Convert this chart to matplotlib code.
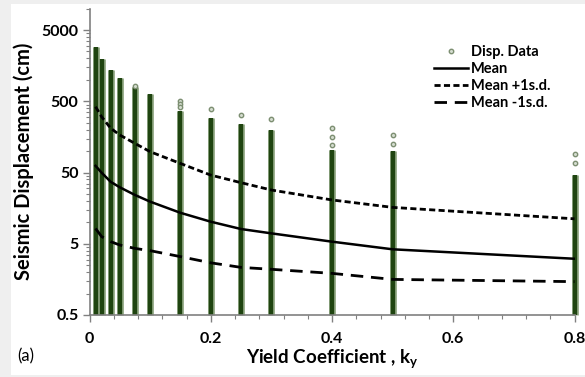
import numpy as np
import matplotlib
matplotlib.use("Agg")
import matplotlib.pyplot as plt
from matplotlib.lines import Line2D
from matplotlib.patches import Rectangle
from matplotlib.ticker import FixedLocator, NullFormatter

plt.rcParams['font.family'] = ['Lato', 'DejaVu Sans']
plt.rcParams['mathtext.fontset'] = 'custom'
plt.rcParams['mathtext.bf'] = 'Lato:bold'
plt.rcParams['mathtext.rm'] = 'Lato:bold'

# yield coefficients where the displacements were computed
ky = [0.01, 0.02, 0.035, 0.05, 0.075, 0.1, 0.15, 0.2, 0.25, 0.3, 0.4, 0.5, 0.8]
# top of the dense cloud of displacement values at each ky (cm)
col_top = [2860, 1980, 1360, 1060, 800, 640, 360, 294, 240, 197, 103, 101, 46]
# isolated large displacements above each cloud
outliers = {
    0.075: [826],
    0.15: [505, 460, 420],
    0.2: [385],
    0.25: [324],
    0.3: [279],
    0.4: [213, 156, 122],
    0.5: [168, 126],
    0.8: [91, 67],
}

mean = [62, 49.7, 37, 31, 24.2, 19.5, 13.6, 10.2, 8.05, 7.0, 5.35, 4.18, 3.08]
plus_sd = [420, 303, 209, 168, 128, 98, 67, 46, 36, 28.4, 20.6, 16.2, 11.2]
minus_sd = [8.2, 6.3, 5.35, 4.8, 4.3, 4.0, 3.3, 2.7, 2.33, 2.19, 1.92, 1.58, 1.47]

fig = plt.figure(figsize=(5.85, 3.77), dpi=100, facecolor='#efefef')
fig.patches.append(Rectangle((11 / 585, 2 / 377), 574 / 585, 371 / 377,
                             transform=fig.transFigure, facecolor='white',
                             edgecolor='none', zorder=-1))
ax = fig.add_axes([89.5 / 585, 62 / 377, 485 / 585, 306.4 / 377])
ax.set_zorder(1)
ax.set_facecolor('none')

ymin = 0.5
# data clouds drawn as dense columns with a pale rim
ax.vlines(ky, ymin, col_top, colors='#9bb08e', linewidth=5.0, zorder=2,
          clip_on=False)
ax.vlines(ky, ymin, col_top, colors='#1f4410', linewidth=3.2, zorder=3,
          clip_on=False)
for k, vals in outliers.items():
    ax.scatter([k] * len(vals), vals, s=10, facecolor='#d5ddd0',
               edgecolor='#7d8f72', linewidth=1.0, zorder=4, clip_on=False)

ax.plot(ky, mean, color='black', linewidth=1.8, zorder=5)
ax.plot(ky, plus_sd, color='black', linewidth=2.0, dashes=(2.2, 1.2), zorder=5)
ax.plot(ky, minus_sd, color='black', linewidth=2.0, dashes=(4.5, 2.8), zorder=5)

ax.set_yscale('log')
ax.set_ylim(0.5, 10000)
ax.set_xlim(0, 0.8)

major_y = [0.5, 5, 50, 500, 5000]
minor_y = [m * b for b in [0.5, 5, 50, 500, 5000] for m in range(2, 10)]
ax.yaxis.set_major_locator(FixedLocator(major_y))
ax.yaxis.set_minor_locator(FixedLocator(minor_y))
ax.yaxis.set_minor_formatter(NullFormatter())
ax.set_yticklabels(['0.5', '5', '50', '500', '5000'])
ax.set_xticks([0, 0.2, 0.4, 0.6, 0.8])
ax.set_xticklabels(['0', '0.2', '0.4', '0.6', '0.8'])
ax.set_xticks(np.arange(0, 0.81, 0.04), minor=True)

for s in ['top', 'right']:
    ax.spines[s].set_visible(False)
for s in ['left', 'bottom']:
    ax.spines[s].set_color('#808080')
    ax.spines[s].set_linewidth(1.2)
    ax.spines[s].set_zorder(6)
ax.tick_params(which='major', length=5, width=1.0, color='#808080',
               labelsize=11.5, pad=3)
ax.tick_params(which='minor', length=3, width=0.8, color='#808080')
for lab in ax.get_xticklabels() + ax.get_yticklabels():
    lab.set_fontweight('bold')
ax.tick_params(axis='x', pad=7)

ax.set_ylabel('Seismic Displacement (cm)', fontsize=14.5, fontweight='bold',
              labelpad=5)
ax.set_xlabel(r'Yield Coefficient , $\mathbf{k_y}$', fontsize=13.5,
              fontweight='bold', labelpad=1)
fig.text(17 / 585, 1 - 356 / 377, '(a)', fontsize=12, va='center', ha='left')

handles = [
    Line2D([], [], linestyle='none', marker='o', markersize=3.2,
           markerfacecolor='#d5ddd0', markeredgecolor='#7d8f72'),
    Line2D([], [], color='black', linewidth=1.8),
    Line2D([], [], color='black', linewidth=2.0, dashes=(2.2, 1.2)),
    Line2D([], [], color='black', linewidth=2.0, dashes=(4.5, 2.8)),
]
labels = ['Disp. Data', 'Mean', 'Mean +1s.d.', 'Mean -1s.d.']
leg = ax.legend(handles, labels, loc='upper left',
                bbox_to_anchor=(427 / 585, 1 - 38 / 377),
                bbox_transform=fig.transFigure, frameon=False,
                prop={'weight': 'bold', 'size': 10.5}, handlelength=2.3,
                handletextpad=0.2, labelspacing=0.2, borderpad=0)

fig.savefig('out.png', dpi=100, facecolor=fig.get_facecolor())
